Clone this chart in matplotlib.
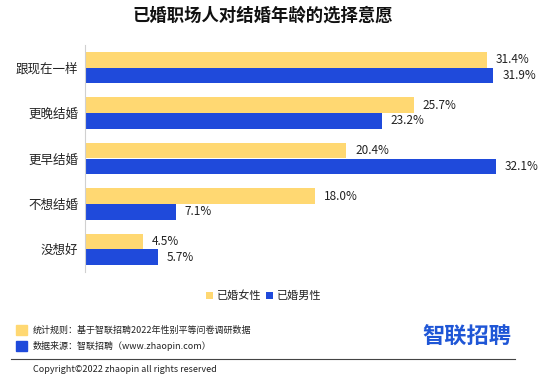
import matplotlib.pyplot as plt
import numpy as np

plt.rcParams['font.family'] = ['Noto Sans CJK SC', 'DejaVu Sans']

categories = ["跟现在一样", "更晚结婚", "更早结婚", "不想结婚", "没想好"]
women = [31.4, 25.7, 20.4, 18.0, 4.5]
men = [31.9, 23.2, 32.1, 7.1, 5.7]
series_names = ["已婚女性", "已婚男性"]

yellow = "#FFD872"
blue = "#1F4ADB"
text_color = "#222222"

fig = plt.figure(figsize=(5.5, 3.91), dpi=100)
ax = fig.add_axes([85 / 550, 1 - 272 / 391, (539 - 85) / 550, (272 - 45) / 391])

y = np.arange(len(categories))
h = 0.345
ax.barh(y - h / 2, women, height=h, color=yellow, label=series_names[0])
ax.barh(y + h / 2, men, height=h, color=blue, label=series_names[1])

for yi, w, m in zip(y, women, men):
    ax.text(w + 0.7, yi - h / 2, f"{w:.1f}%", va="center", ha="left",
            fontsize=8.5, color=text_color)
    ax.text(m + 0.7, yi + h / 2, f"{m:.1f}%", va="center", ha="left",
            fontsize=8.5, color=text_color)

ax.set_xlim(0, (539 - 85) / 12.8)
ax.set_ylim(len(categories) - 0.5, -0.5)
ax.set_yticks(y)
ax.set_yticklabels(categories, fontsize=9, color=text_color)
ax.set_xticks([])
ax.tick_params(axis="y", length=0, pad=5)
for side in ["top", "right", "bottom"]:
    ax.spines[side].set_visible(False)
ax.spines["left"].set_color("#d0d0d0")
ax.spines["left"].set_linewidth(0.8)

fig.text(263 / 550, 1 - 16 / 391, "已婚职场人对结婚年龄的选择意愿", ha="center", va="center",
         fontsize=12.5, fontweight="bold", color="#111111")

fig.legend(loc="center", bbox_to_anchor=(264 / 550, 1 - 296 / 391), ncol=2, frameon=False,
           fontsize=8, handlelength=0.6, handleheight=0.6, handletextpad=0.4,
           columnspacing=0.4, labelcolor=text_color)

# footer
fig.patches.append(plt.Rectangle((16 / 550, 1 - 335 / 391), 11 / 550, 10 / 391,
                                 transform=fig.transFigure, color=yellow))
fig.patches.append(plt.Rectangle((16 / 550, 1 - 351 / 391), 11 / 550, 10 / 391,
                                 transform=fig.transFigure, color=blue))
fig.text(33 / 550, 1 - 330 / 391, "统计规则：基于智联招聘2022年性别平等问卷调研数据",
         ha="left", va="center", fontsize=6.5, color=text_color)
fig.text(33 / 550, 1 - 346 / 391, "数据来源：智联招聘（www.zhaopin.com）",
         ha="left", va="center", fontsize=6.5, color=text_color)
fig.text(467 / 550, 1 - 337 / 391, "智联招聘", ha="center", va="center",
         fontsize=16, fontweight="bold", color="#1F56D6")
fig.add_artist(plt.Line2D([11 / 550, 515 / 550], [1 - 359 / 391, 1 - 359 / 391],
                          transform=fig.transFigure, color="#444444", linewidth=0.8))
fig.text(33 / 550, 1 - 370 / 391, "Copyright©2022 zhaopin all rights reserved",
         ha="left", va="center", fontsize=6.5, color=text_color)

fig.savefig("out.png", dpi=100)
